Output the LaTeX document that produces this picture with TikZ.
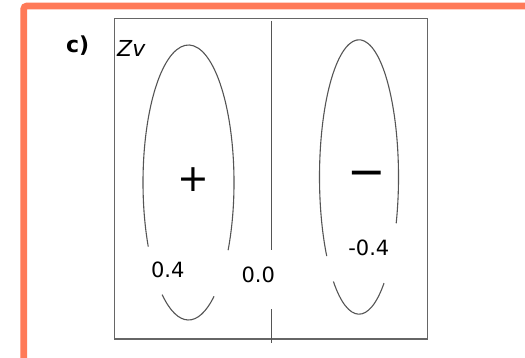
\documentclass[tikz,border=0pt]{standalone}
\usepackage{fontspec}
\newfontfamily\dvsans{DejaVu Sans}
\definecolor{frameorange}{RGB}{255,122,88}
\definecolor{linegray}{RGB}{85,85,85}
\tikzset{
  curve/.style={draw=linegray, line width=1.1pt},
  boxline/.style={draw=linegray!90, line width=1.1pt},
  numlabel/.style={inner sep=0pt, anchor=base, font=\dvsans\fontsize{21}{24}\selectfont},
  signlabel/.style={inner sep=0pt, anchor=base},
}
\begin{document}
\begin{tikzpicture}[x=1pt,y=-1pt]
\useasboundingbox (0,0) rectangle (525,358);
\clip (0,0) rectangle (525,358);
\fill[white] (0,0) rectangle (525,358);
% orange frame
\draw[frameorange, line width=6.6pt, rounded corners=3pt] (540,6) -- (23.7,6) -- (23.7,370);
% plot box
\draw[boxline] (114.3,18.3) rectangle (427.7,339);
% center line
\coordinate (ctop) at (271.3,21);
\coordinate (cmid1) at (271.3,250);
\coordinate (cmid2) at (271.3,309);
\coordinate (cbot) at (271.3,343);
\draw[curve] (ctop) -- (cmid1);
\draw[curve] (cmid2) -- (cbot);
% left contour (+)
\coordinate (lc) at (188.5,182.5);
\draw[curve] (lc) ++(29.5:45.5 and 137.5) arc[start angle=29.5, end angle=-207.8, x radius=45.5, y radius=137.5];
\draw[curve] (lc) ++(55.9:45.5 and 137.5) arc[start angle=55.9, end angle=125.4, x radius=45.5, y radius=137.5];
% right contour (-)
\coordinate (rc) at (359,177);
\draw[curve] (rc) ++(19.7:39.5 and 137.2) arc[start angle=19.7, end angle=-215.2, x radius=39.5, y radius=137.2];
\draw[curve] (rc) ++(50.7:39.5 and 137.2) arc[start angle=50.7, end angle=130.4, x radius=39.5, y radius=137.2];
% labels
\node[inner sep=0pt, anchor=base west, font=\dvsans\bfseries\fontsize{22}{25}\selectfont] (clabel) at (66,52.5) {c)};
\node[inner sep=0pt, anchor=base west, font=\dvsans\itshape\fontsize{22}{25}\selectfont] (zv) at (117,56.7) {Zv};
\node[signlabel, font=\dvsans\fontsize{38}{40}\selectfont] (plus) at (193.8,191.9) {+};
\node[signlabel, font=\dvsans\fontsize{46}{48}\selectfont] (minus) at (366.3,187.4) {−};
\node[numlabel] (vpos) at (167.8,277.3) {0.4};
\node[numlabel] (vzero) at (258.3,282.3) {0.0};
\node[numlabel] (vneg) at (368.8,256) {-0.4};
\end{tikzpicture}
\end{document}
